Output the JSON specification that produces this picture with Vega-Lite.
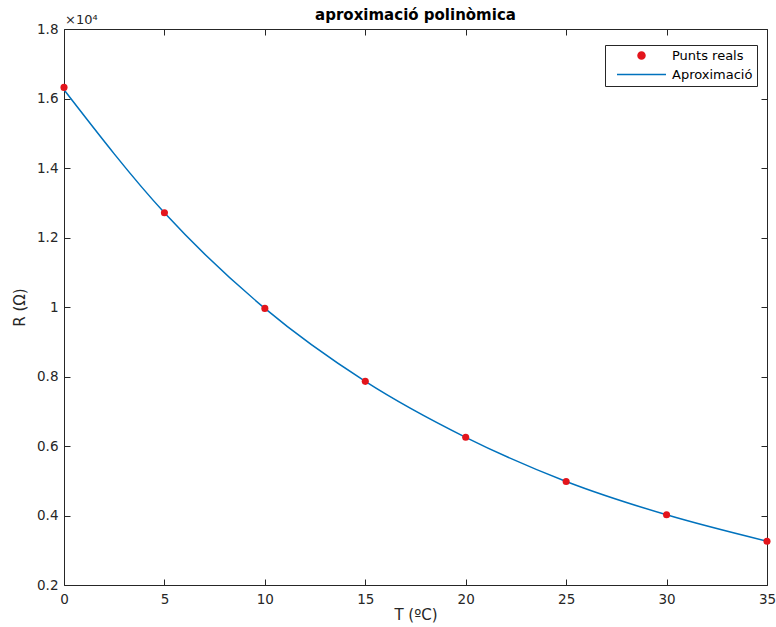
{
  "$schema": "https://vega.github.io/schema/vega-lite/v6.json",
  "autosize": "none",
  "width": 703,
  "height": 556,
  "padding": {"left": 64, "top": 29, "right": 9, "bottom": 42},
  "background": "white",
  "config": {
    "font": "DejaVu Sans",
    "view": {"stroke": "#262626", "strokeWidth": 1},
    "axis": {"domain": false, "ticks": false, "tickSize": 0, "grid": true, "gridColor": "#262626", "gridWidth": 1, "gridOpacity": 1, "labelColor": "#262626", "titleColor": "#262626", "labelFontSize": 13.5, "titleFontSize": 15, "titleFontWeight": "normal", "labelFlush": false, "labelOverlap": false}
  },
  "title": {"text": "aproximació polinòmica", "fontSize": 15, "fontWeight": "bold", "color": "#000000", "anchor": "middle", "baseline": "alphabetic", "offset": -8, "dy": 13},
  "datasets": {
    "punts": [
      {"T": 0, "R": 16320, "serie": "Punts reals"},
      {"T": 5, "R": 12710, "serie": "Punts reals"},
      {"T": 10, "R": 9960, "serie": "Punts reals"},
      {"T": 15, "R": 7860, "serie": "Punts reals"},
      {"T": 20, "R": 6250, "serie": "Punts reals"},
      {"T": 25, "R": 4980, "serie": "Punts reals"},
      {"T": 30, "R": 4020, "serie": "Punts reals"},
      {"T": 35, "R": 3260, "serie": "Punts reals"}
    ],
    "corba": [
      {"T": 0, "R": 16250, "serie": "Aproximació"},
      {"T": 5, "R": 12710, "serie": "Aproximació"},
      {"T": 10, "R": 9960, "serie": "Aproximació"},
      {"T": 15, "R": 7860, "serie": "Aproximació"},
      {"T": 20, "R": 6250, "serie": "Aproximació"},
      {"T": 25, "R": 4980, "serie": "Aproximació"},
      {"T": 30, "R": 4020, "serie": "Aproximació"},
      {"T": 35, "R": 3260, "serie": "Aproximació"}
    ],
    "exp": [{"label": "×10⁴"}]
  },
  "layer": [
    {
      "data": {"name": "corba"},
      "mark": {"type": "line", "interpolate": "monotone", "strokeWidth": 1.5, "clip": true},
      "encoding": {
        "x": {"field": "T", "type": "quantitative", "scale": {"domain": [0, 35], "nice": false}, "axis": {"title": "T (ºC)", "values": [0, 5, 10, 15, 20, 25, 30, 35], "gridDash": [6, 544, 6, 3000], "labelPadding": 7, "titlePadding": 2}},
        "y": {"field": "R", "type": "quantitative", "scale": {"domain": [2000, 18000], "nice": false, "zero": false}, "axis": {"title": "R (Ω)", "values": [2000, 4000, 6000, 8000, 10000, 12000, 14000, 16000, 18000], "gridDash": [6, 691, 6, 3000], "labelExpr": "format(datum.value / 10000, '~g')", "labelPadding": 6, "titlePadding": 9}},
        "color": {"field": "serie", "type": "nominal", "scale": {"domain": ["Punts reals", "Aproximació"], "range": ["#e3151c", "#0072BD"]},
          "legend": {"title": null, "orient": "none", "legendX": 541, "legendY": 16, "strokeColor": "#262626", "fillColor": "white", "padding": 4, "labelFontSize": 13, "labelColor": "#000000", "symbolSize": 49, "rowPadding": 5, "symbolStrokeWidth": 1.5, "symbolOffset": 26, "labelOffset": 24, "cornerRadius": 0,
            "encode": {"symbols": {"update": {"stroke": {"scale": "color", "field": "value"}, "strokeWidth": {"value": 1.5}}}}}},
        "shape": {"field": "serie", "type": "nominal", "scale": {"domain": ["Punts reals", "Aproximació"], "range": ["circle", "M-7,0H7"]}}
      }
    },
    {
      "data": {"name": "punts"},
      "mark": {"type": "point", "filled": true, "size": 50, "opacity": 1, "clip": false},
      "encoding": {
        "x": {"field": "T", "type": "quantitative"},
        "y": {"field": "R", "type": "quantitative"},
        "color": {"field": "serie", "type": "nominal"},
        "shape": {"field": "serie", "type": "nominal"}
      }
    },
    {
      "data": {"name": "exp"},
      "mark": {"type": "text", "align": "left", "baseline": "alphabetic", "fontSize": 13, "color": "#262626", "dy": -5, "dx": 1},
      "encoding": {
        "x": {"datum": 0, "type": "quantitative"},
        "y": {"datum": 18000, "type": "quantitative"},
        "text": {"field": "label"}
      }
    }
  ]
}
